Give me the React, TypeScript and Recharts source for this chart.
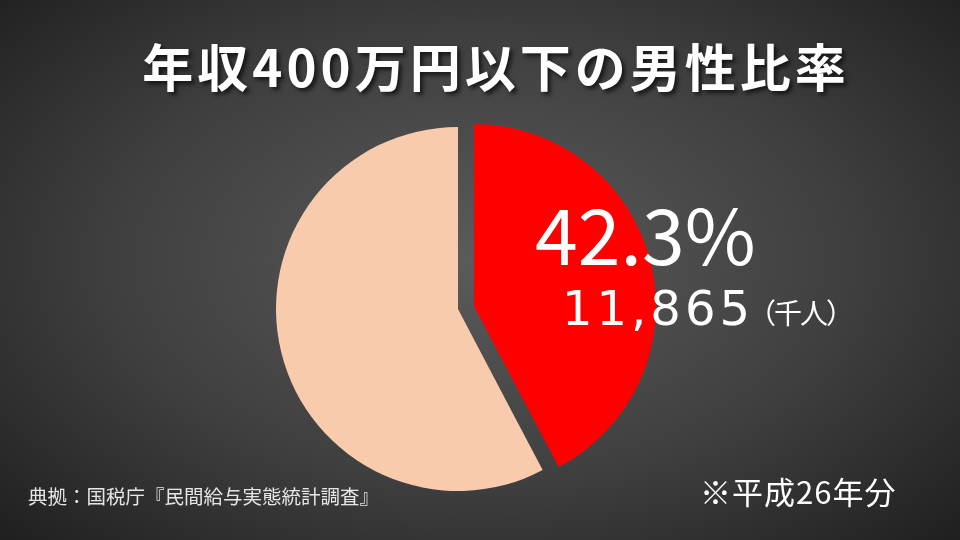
import { PieChart, Pie, Cell } from "recharts"

const categories = ["男性", "女性"]
const values = [11865, 16185]
const unitLabel = "（千人）"
const titleText = "年収400万円以下の男性比率"
const sourceText = "典拠：国税庁『民間給与実態統計調査』"
const noteText = "※平成26年分"

const data = categories.map((name, i) => ({ name, value: values[i] }))
const total = values.reduce((a, b) => a + b, 0)

const FONT = "'Noto Sans CJK JP', 'Noto Sans', sans-serif"
const NUM_FONT = "'DejaVu Sans', 'Noto Sans', sans-serif"

const MaleLabel = (props: any) => {
  const { cx, cy, index, value } = props
  if (index !== 0) return null
  const pct = ((value / total) * 100).toFixed(1)
  return (
    <g fill="#fff">
      <text x={cx + 61} y={cy - 41} fontSize={77} fontFamily={FONT} fontWeight={400}>
        {pct}%
      </text>
      <text x={cx + 88} y={cy + 19} fontSize={48} fontFamily={NUM_FONT} letterSpacing={4}>
        {value.toLocaleString("en-US")}
        <tspan fontSize={28} fontFamily={FONT} letterSpacing={-2} dx={-6} dy={-1}>
          {unitLabel}
        </tspan>
      </text>
    </g>
  )
}

export default function App() {
  return (
    <div
      style={{
        position: "fixed",
        left: 0,
        top: 0,
        width: 960,
        height: 540,
        overflow: "hidden",
        background:
          "radial-gradient(ellipse 70% 75% at 50% 48%, #5b5b5b 0%, #3f3f3f 55%, #1f1f1f 100%)",
        fontFamily: FONT,
      }}
    >
      <div
        style={{
          position: "absolute",
          top: 40,
          left: 0,
          width: 992,
          textAlign: "center",
          color: "#fff",
          fontSize: 51,
          fontWeight: 700,
          lineHeight: 1,
          letterSpacing: 4,
          textShadow: "3px 3px 4px rgba(0,0,0,0.65)",
          whiteSpace: "nowrap",
        }}
      >
        {titleText}
      </div>

      <div style={{ position: "absolute", left: 0, top: 0 }}>
        <PieChart width={960} height={540} margin={{ top: 0, right: 0, bottom: 0, left: 0 }}>
          <Pie
            data={data}
            dataKey="value"
            cx={458}
            cy={309}
            outerRadius={182}
            startAngle={90}
            endAngle={-270}
            stroke="none"
            isAnimationActive={false}
          >
            <Cell fill="transparent" />
            <Cell fill="#F8CBAD" />
          </Pie>
          <Pie
            data={data}
            dataKey="value"
            cx={474}
            cy={306}
            outerRadius={182}
            startAngle={90}
            endAngle={-270}
            stroke="none"
            labelLine={false}
            label={MaleLabel}
            isAnimationActive={false}
          >
            <Cell fill="#FF0000" />
            <Cell fill="transparent" />
          </Pie>
        </PieChart>
      </div>

      <div
        style={{
          position: "absolute",
          left: 28,
          top: 486,
          color: "#e6e6e6",
          fontSize: 19.5,
          lineHeight: 1,
          whiteSpace: "nowrap",
        }}
      >
        {sourceText}
      </div>
      <div
        style={{
          position: "absolute",
          left: 700,
          top: 475,
          color: "#fff",
          fontSize: 31,
          lineHeight: 1,
          letterSpacing: 1,
          whiteSpace: "nowrap",
        }}
      >
        {noteText}
      </div>
    </div>
  )
}
